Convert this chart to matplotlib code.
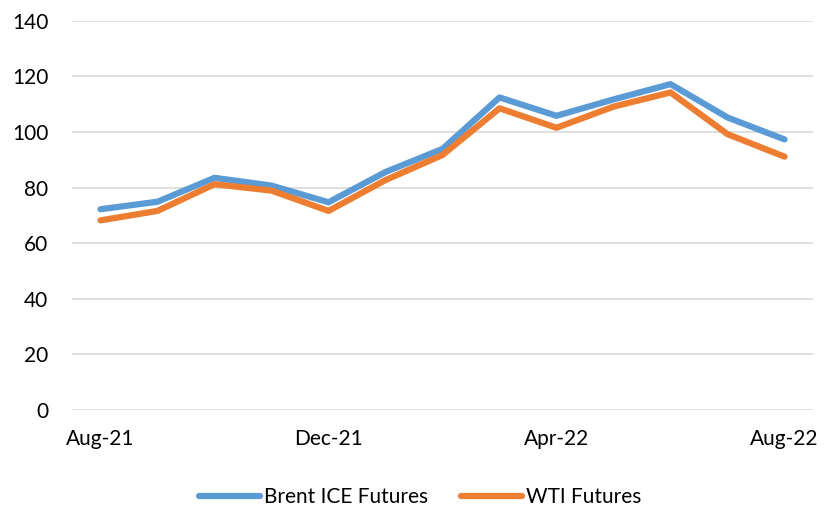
import matplotlib
matplotlib.use('Agg')
import matplotlib.pyplot as plt
import numpy as np

months = ['Aug-21', 'Sep-21', 'Oct-21', 'Nov-21', 'Dec-21', 'Jan-22', 'Feb-22',
          'Mar-22', 'Apr-22', 'May-22', 'Jun-22', 'Jul-22', 'Aug-22']
brent = [72.2, 74.9, 83.5, 80.7, 74.7, 85.6, 93.9, 112.4, 105.8, 111.7, 117.2, 105.2, 97.3]
wti = [68.2, 71.6, 81.2, 78.9, 71.6, 82.7, 91.7, 108.5, 101.5, 109.1, 114.2, 99.2, 91.1]
y_ticks = [0, 20, 40, 60, 80, 100, 120, 140]

plt.rcParams['font.family'] = ['Lato', 'DejaVu Sans']

fig = plt.figure(figsize=(8.24, 5.09), dpi=100)
ax = fig.add_axes([0.0874, 0.1945, 0.8993, 0.7648])

x = np.arange(len(months))
ax.plot(x, brent, color='#5B9BD5', lw=4.5, solid_capstyle='round', solid_joinstyle='round',
        label='Brent ICE Futures', zorder=3)
ax.plot(x, wti, color='#ED7D31', lw=4.5, solid_capstyle='round', solid_joinstyle='round',
        label='WTI Futures', zorder=3)

ax.set_xlim(-0.5, len(months) - 0.5)
ax.set_ylim(0, 140)
ax.set_yticks(y_ticks)
ax.set_xticks(x[::4])
ax.set_xticklabels(months[::4])
ax.grid(axis='y', color='#D9D9D9', lw=1.2)
ax.set_axisbelow(True)
for s in ax.spines.values():
    s.set_visible(False)
ax.tick_params(axis='both', length=0, labelsize=15, colors='#000000')
ax.tick_params(axis='y', pad=17)
ax.tick_params(axis='x', pad=14)

ax.legend(loc='center', bbox_to_anchor=(0.47, -0.224), ncol=2, frameon=False,
          fontsize=15, handlelength=2.9, columnspacing=1.6, handletextpad=0.2)

fig.savefig('out.png', dpi=100)
